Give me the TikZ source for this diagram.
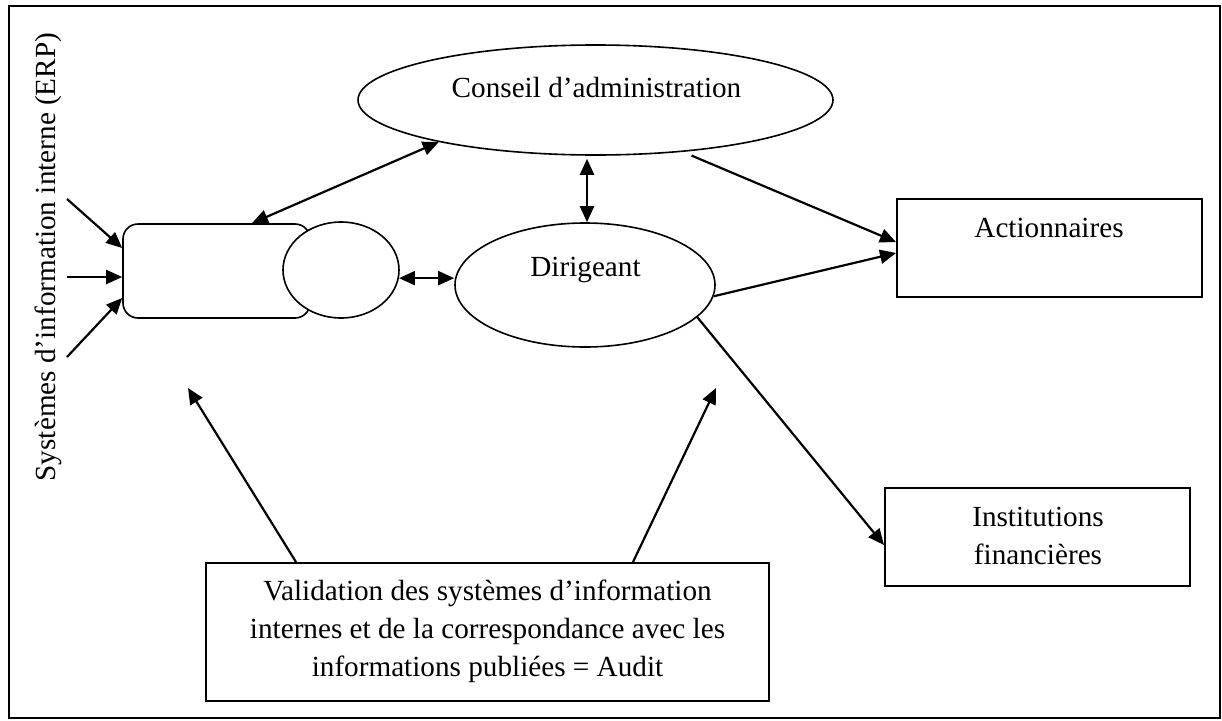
\documentclass[tikz,border=0pt]{standalone}
\usepackage{fontspec}
\setmainfont{Liberation Serif}
\usetikzlibrary{shapes.geometric,arrows.meta,calc}

\begin{document}
\begin{tikzpicture}[x=1pt,y=-1pt,
  txt/.style={font=\fontsize{29.2}{38}\selectfont, inner sep=0pt, align=center},
  oval/.style={ellipse, draw, line width=1.6pt, inner sep=0pt, fill=white},
  rectbox/.style={rectangle, draw, line width=2pt, inner sep=0pt},
  link/.style={line width=2.2pt, -{Triangle[length=16pt,width=14pt]}},
  dlink/.style={line width=2.2pt, {Triangle[length=16pt,width=14pt]}-{Triangle[length=16pt,width=14pt]}}
]
\useasboundingbox (0,0) rectangle (1222,720);

% outer frame
\draw[line width=2pt] (9,6) rectangle (1220,718);

% side label
\node[txt, rotate=90, anchor=base] (erp) at (55,257) {Systèmes d’information interne (ERP)};

% information system block: rounded box with a round part on its right
\node[rectbox, line width=1.6pt, rounded corners=15pt, minimum width=187pt, minimum height=94pt] (box) at (216.5,271) {};
\node[oval, minimum width=116pt, minimum height=96pt] (circ) at (341,270) {};

% governance bodies
\node[oval, minimum width=475pt, minimum height=110pt] (cons) at (595.5,100) {};
\node[txt, anchor=base] (constxt) at (596.5,97) {Conseil d’administration};

\node[oval, minimum width=260pt, minimum height=124pt] (dir) at (585,285) {};
\node[txt, anchor=base] (dirtxt) at (585.5,276) {Dirigeant};

% information users
\node[rectbox, minimum width=305pt, minimum height=98pt] (act) at (1049.5,248) {};
\node[txt, anchor=base] (acttxt) at (1049,237) {Actionnaires};

\node[rectbox, minimum width=305pt, minimum height=98pt] (inst) at (1037.5,537) {};
\node[txt] (insttxt) at (1038,535.5) {Institutions\\financières};

% audit
\node[rectbox, minimum width=563pt, minimum height=138pt] (aud) at (487.5,632) {};
\node[txt] (audtxt) at (487.5,631) {Validation des systèmes d’information\\internes et de la correspondance avec les\\informations publiées = Audit};

% free ends
\coordinate (s1) at (67,199);
\coordinate (s2) at (67,277);
\coordinate (s3) at (67,357);
\coordinate (a1) at (188,388);
\coordinate (a2) at (716,388);

% inputs to the information system
\draw[link] (s1) -- ([yshift=23pt]box.west);
\draw[link] (s2) -- ([yshift=-6pt]box.west);
\draw[link] (s3) -- ([yshift=-27pt]box.west);

% exchanges
\draw[dlink] ([xshift=35.5pt]box.north) -- (cons.195);
\draw[dlink] ([xshift=2pt]dir.north) -- ([xshift=2pt,yshift=-3pt]dir.north |- cons.south);
\draw[dlink] (circ.-8) -- (circ.-8 -| dir.west);

% reporting
\draw[link] ([yshift=-4.5pt]cons.-28) -- ([yshift=6pt]act.west);
\draw[link] (dir.-5) -- ([yshift=-5pt]act.west);
\draw[link] (dir.-16) -- ([yshift=-8pt]inst.west);

% audit validation
\draw[link] ([xshift=-191.5pt]aud.north) -- (a1);
\draw[link] ([xshift=145.5pt]aud.north) -- (a2);
\end{tikzpicture}
\end{document}
